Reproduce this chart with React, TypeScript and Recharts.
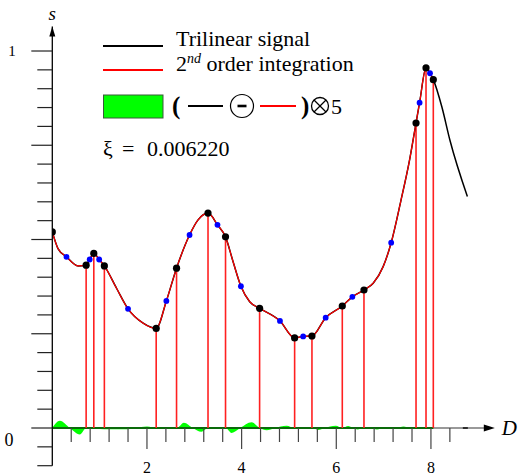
import { Area, ComposedChart, Line, ReferenceLine, Scatter, XAxis, YAxis } from 'recharts'

// black knots of the trilinear signal
const knotD = [0, 0.715, 0.877, 1.1, 2.195, 2.625, 3.29, 3.66, 4.38, 5.12, 5.486, 6.127, 6.585, 7.685, 7.896, 8.05]
const knotS = [0.52, 0.432, 0.463, 0.43, 0.264, 0.424, 0.57, 0.507, 0.3175, 0.239, 0.244, 0.3236, 0.366, 0.809, 0.955, 0.924]

// blue midpoints
const midD = [0.3, 0.79, 0.99, 1.6, 2.41, 2.9, 3.49, 3.985, 4.81, 5.3, 5.776, 6.34, 7.16, 7.76, 7.98]
const midS = [0.454, 0.447, 0.447, 0.316, 0.337, 0.512, 0.539, 0.376, 0.284, 0.243, 0.2926, 0.348, 0.4915, 0.863, 0.941]

// readings along the signal curve
const curveD = [
  0, 0.12, 0.3, 0.545, 0.715, 0.79, 0.877, 0.99, 1.1, 1.36, 1.6, 1.92, 2.195, 2.41, 2.625, 2.9, 3.08, 3.29, 3.49,
  3.66, 3.82, 3.985, 4.17, 4.38, 4.81, 5.12, 5.3, 5.486, 5.776, 6.127, 6.34, 6.585, 6.78, 6.99, 7.16, 7.36, 7.55,
  7.685, 7.76, 7.896, 7.98, 8.05, 8.23, 8.4, 8.77,
]
const curveS = [
  0.52, 0.476, 0.454, 0.43, 0.432, 0.447, 0.463, 0.447, 0.43, 0.37, 0.316, 0.278, 0.264, 0.337, 0.424, 0.512, 0.552,
  0.57, 0.539, 0.507, 0.441, 0.376, 0.335, 0.3175, 0.284, 0.239, 0.243, 0.244, 0.2926, 0.3236, 0.348, 0.366, 0.384,
  0.428, 0.4915, 0.6, 0.712, 0.809, 0.863, 0.955, 0.941, 0.924, 0.852, 0.764, 0.614,
]

// difference (x5) shown as the green band
const errD = [
  0, 0.16, 0.37, 0.58, 0.72, 1.1, 1.6, 1.75, 2.0, 2.2, 2.63, 2.78, 2.97, 3.15, 3.29, 3.66, 3.79, 3.97, 4.21, 4.38,
  4.53, 4.7, 4.95, 5.12, 5.5, 5.62, 5.75, 5.99, 6.13, 6.25, 6.35, 6.45, 6.56, 6.72, 6.86, 7.0, 7.28, 7.42, 7.56, 8.05,
]
const errV = [
  0, 0.019, 0, -0.017, 0, -0.003, -0.003, 0, 0.004, 0, 0, 0.014, 0, -0.01, 0, 0, -0.013, 0, 0.015, 0, -0.006, 0, 0.006,
  0, 0, -0.005, 0, 0.006, 0, 0.005, 0, -0.004, 0, 0, -0.004, 0, 0, 0.004, 0, 0,
]

const xTickLabels = [2, 4, 6, 8]
const yTickLabels = [0, 1]
const xTicks = Array.from({ length: 21 }, (_, k) => ((k + 1) * 4) / 10)
const yTicks = Array.from({ length: 23 }, (_, k) => (k - 2) / 20)

const W = 518
const H = 476
const LEFT = 52.3
const TOP = 26.5
const BOTTOM = 10.3
const X_MAX = 9.35
const RIGHT = W - LEFT - X_MAX * 47.33
const Y_MIN = -0.1
const Y_MAX = 1.065
const PLOT_H = H - TOP - BOTTOM
const Y0 = TOP + (Y_MAX / (Y_MAX - Y_MIN)) * PLOT_H
const SERIF = '"Liberation Serif", serif'

const curve = curveD.map((d, i) => ({ d, s: curveS[i] }))
const redCurve = curve.filter((p) => p.d <= knotD[knotD.length - 1])
const knots = knotD.map((d, i) => ({ d, s: knotS[i] }))
const mids = midD.map((d, i) => ({ d, s: midS[i] }))
const errBand = errD.map((d, i) => ({ d, e: errV[i] }))

function XTick(props: any) {
  const { x, payload } = props
  const v = payload.value
  const major = xTickLabels.some((t) => Math.abs(t - v) < 1e-6)
  return (
    <g>
      <line x1={x} x2={x} y1={Y0} y2={Y0 + (major ? 21 : 14)} stroke="#444" strokeWidth={1.2} />
      {major && (
        <text x={x} y={473} textAnchor="middle" fontSize={16} style={{ fontFamily: SERIF }} fill="#000">
          {v}
        </text>
      )}
    </g>
  )
}

function YTick(props: any) {
  const { y, payload } = props
  const v = payload.value
  const major = Math.abs(v * 4 - Math.round(v * 4)) < 1e-6
  const lab = yTickLabels.find((t) => Math.abs(t - v) < 1e-6)
  return (
    <g>
      <line x1={LEFT - (major ? 21 : 15)} x2={LEFT} y1={y} y2={y} stroke="#222" strokeWidth={1.2} />
      {lab === 0 && (
        <text x={9} y={y + 18} textAnchor="middle" fontSize={18} style={{ fontFamily: SERIF }} fill="#000">
          0
        </text>
      )}
      {lab === 1 && (
        <text x={12} y={y + 4.5} textAnchor="middle" fontSize={15} style={{ fontFamily: SERIF }} fill="#000">
          1
        </text>
      )}
    </g>
  )
}

function YArrow(props: any) {
  const vb = props.viewBox || {}
  const tx = vb.x + vb.width
  const ty = vb.y
  return (
    <g>
      <polygon points={`${tx},${ty} ${tx - 3},${ty + 10} ${tx + 3},${ty + 10}`} fill="#000" />
      <text x={tx} y={ty - 7} textAnchor="middle" fontSize={19} fontStyle="italic" style={{ fontFamily: SERIF }}>
        s
      </text>
    </g>
  )
}

function XAxisLine(props: any) {
  const { x1, y1, x2 } = props
  return (
    <g>
      <line x1={x1} x2={x2 - 8} y1={y1} y2={y1} stroke="#777" strokeWidth={1.5} />
      <line x1={x2 - 32} x2={x2 - 27} y1={y1} y2={y1} stroke="#222" strokeWidth={1.8} />
      <polygon points={`${x2},${y1} ${x2 - 11},${y1 - 3.5} ${x2 - 11},${y1 + 3.5}`} fill="#000" />
      <text x={x2 + 7} y={y1 + 7} fontSize={21} fontStyle="italic" style={{ fontFamily: SERIF }}>
        D
      </text>
    </g>
  )
}

function LegendOverlay() {
  return (
    <svg
      width={W}
      height={H}
      style={{ position: 'absolute', left: 0, top: 0, pointerEvents: 'none', fontFamily: SERIF }}
    >
      <line x1={103} x2={163} y1={46} y2={46} stroke="#000" strokeWidth={2} />
      <text x={176} y={46} fontSize={22}>
        Trilinear signal
      </text>
      <line x1={103} x2={163} y1={70} y2={70} stroke="#ff0000" strokeWidth={2} />
      <text x={176} y={71} fontSize={22}>
        2
        <tspan fontSize={14} fontStyle="italic" dy={-8}>
          nd
        </tspan>
        <tspan dy={8}> order integration</tspan>
      </text>
      <rect x={103.5} y={95} width={59.5} height={23} fill="#00ff00" stroke="#3a5a3a" strokeWidth={1} />
      <text x={172} y={114} fontSize={25} fontWeight="bold">
        (
      </text>
      <line x1={188} x2={223} y1={106} y2={106} stroke="#000" strokeWidth={2} />
      <circle cx={242} cy={106} r={11.5} fill="#fff" stroke="#000" strokeWidth={1.2} />
      <line x1={237.5} x2={246.5} y1={106} y2={106} stroke="#000" strokeWidth={2.6} />
      <line x1={260} x2={296} y1={106} y2={106} stroke="#ff0000" strokeWidth={2} />
      <text x={301} y={114} fontSize={25} fontWeight="bold">
        )
      </text>
      <circle cx={320} cy={106} r={8.5} fill="none" stroke="#000" strokeWidth={1.3} />
      <line x1={314} x2={326} y1={100} y2={112} stroke="#000" strokeWidth={1.3} />
      <line x1={314} x2={326} y1={112} y2={100} stroke="#000" strokeWidth={1.3} />
      <text x={331} y={114} fontSize={22}>
        5
      </text>
      <text y={156} fontSize={22}>
        <tspan x={103}>ξ</tspan>
        <tspan x={122}>=</tspan>
        <tspan x={147}>0.006220</tspan>
      </text>
    </svg>
  )
}

export default function App() {
  return (
    <div style={{ position: 'relative', width: W, height: H, background: '#fff', fontFamily: SERIF }}>
      <style>{'body{margin:0}'}</style>
      <ComposedChart width={W} height={H} margin={{ top: TOP, right: RIGHT, bottom: 0, left: 0 }}>
        <XAxis
          type="number"
          dataKey="d"
          domain={[0, X_MAX]}
          allowDataOverflow
          ticks={xTicks}
          interval={0}
          height={BOTTOM}
          tickLine={false}
          axisLine={false}
          tick={<XTick />}
        />
        <YAxis
          type="number"
          dataKey="s"
          domain={[Y_MIN, Y_MAX]}
          allowDataOverflow
          ticks={yTicks}
          interval={0}
          width={LEFT}
          tickLine={false}
          axisLine={{ stroke: '#000', strokeWidth: 1.3 }}
          tick={<YTick />}
          label={(p: any) => <YArrow {...p} />}
        />
        <ReferenceLine y={0} shape={(p: any) => <XAxisLine {...p} />} />
        <Area
          data={errBand}
          dataKey="e"
          type="monotone"
          baseValue={0}
          fill="#00ff00"
          fillOpacity={1}
          stroke="none"
          isAnimationActive={false}
        />
        <ReferenceLine
          segment={[
            { x: errD[0], y: 0 },
            { x: errD[errD.length - 1], y: 0 },
          ]}
          stroke="#0a6a0a"
          strokeWidth={2.2}
        />
        {knots
          .filter((k) => k.d > 0)
          .map((k) => (
            <ReferenceLine
              key={k.d}
              segment={[
                { x: k.d, y: 0 },
                { x: k.d, y: k.s },
              ]}
              stroke="#ff2020"
              strokeWidth={1.6}
            />
          ))}
        <Line data={curve} dataKey="s" type="monotone" stroke="#000" strokeWidth={1.5} dot={false} isAnimationActive={false} />
        <Line data={redCurve} dataKey="s" type="monotone" stroke="#ff0000" strokeWidth={1.2} dot={false} isAnimationActive={false} />
        <Scatter
          data={mids}
          dataKey="s"
          isAnimationActive={false}
          shape={(p: any) => <circle cx={p.cx} cy={p.cy} r={2.9} fill="#0000ff" />}
        />
        <Scatter
          data={knots}
          dataKey="s"
          isAnimationActive={false}
          shape={(p: any) => <circle cx={p.cx} cy={p.cy} r={3.6} fill="#000" />}
        />
      </ComposedChart>
      <LegendOverlay />
    </div>
  )
}
